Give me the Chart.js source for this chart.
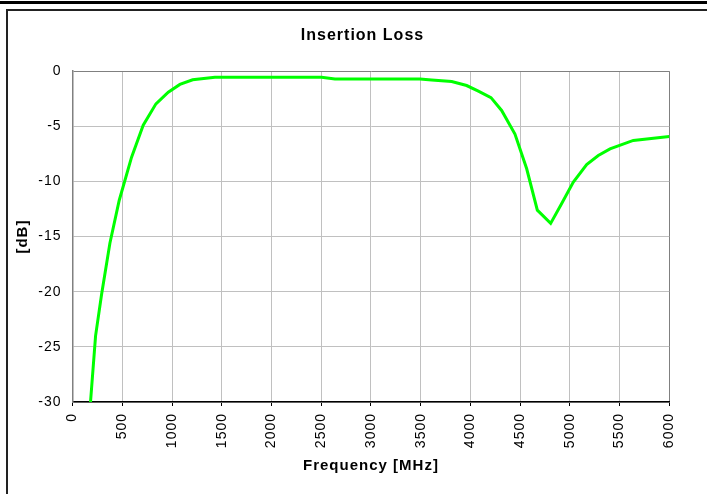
<!DOCTYPE html>
<html>
<head>
<meta charset="utf-8">
<title>Insertion Loss</title>
<script src="https://cdn.jsdelivr.net/npm/chart.js@4.4.1/dist/chart.umd.min.js"></script>
<style>
  html, body { margin: 0; padding: 0; background: #fff; overflow: hidden; }
  body { width: 707px; height: 494px; position: relative; }
  #topbar { position: absolute; left: 0; top: 1px; width: 707px; height: 3px; background: #000; }
  #frame  { position: absolute; left: 6px; top: 9px; width: 720px; height: 500px;
            border-left: 2px solid #222; border-top: 2px solid #222; }
  #wrap   { position: absolute; left: 8px; top: 11px; width: 709px; height: 483px; }
</style>
</head>
<body>
<div id="topbar"></div>
<div id="frame"></div>
<div id="wrap"><canvas id="il"></canvas></div>
<script>
// insertion loss curve
const freqMHz = [180, 231, 292, 375, 469, 593, 710, 838, 962, 1079, 1207, 1431,
                 2504, 2638, 3493, 3610, 3812, 3962, 4080, 4207, 4314, 4448,
                 4566, 4673, 4807, 4918, 5035, 5169, 5286, 5404, 5638, 6000];
const lossDb  = [-30, -24, -20.2, -15.6, -11.7, -7.8, -4.9, -2.96, -1.9, -1.2, -0.78, -0.54,
                 -0.54, -0.7, -0.7, -0.8, -0.94, -1.3, -1.8, -2.4, -3.56, -5.7,
                 -8.85, -12.6, -13.8, -12.0, -10.06, -8.46, -7.64, -7.04, -6.28, -5.92];

const xTicks = [0, 500, 1000, 1500, 2000, 2500, 3000, 3500, 4000, 4500, 5000, 5500, 6000];
const yTicks = [0, -5, -10, -15, -20, -25, -30];

const FONT = "'Liberation Sans', Arial, sans-serif";

const points = freqMHz.map((f, i) => ({ x: f, y: lossDb[i] }));

// the source chart has slightly spaced-out lettering
const spacing = {
  id: 'spacing',
  beforeUpdate: c => { c.ctx.letterSpacing = '1px'; },
  beforeDraw:   c => { c.ctx.letterSpacing = '1px'; }
};

new Chart(document.getElementById('il'), {
  type: 'line',
  data: {
    datasets: [{
      label: 'Insertion Loss',
      data: points,
      borderColor: '#00ff00',
      borderWidth: 3,
      pointRadius: 0,
      tension: 0,
      fill: false
    }]
  },
  options: {
    responsive: true,
    maintainAspectRatio: false,
    animation: false,
    layout: { padding: 0 },
    plugins: {
      legend: { display: false },
      tooltip: { enabled: false },
      title: {
        display: true,
        text: 'Insertion Loss',
        color: '#000',
        font: { family: FONT, size: 16, weight: 'bold' },
        padding: { top: 15, bottom: 26 }
      }
    },
    scales: {
      x: {
        type: 'linear',
        min: xTicks[0],
        max: xTicks[xTicks.length - 1],
        afterBuildTicks: s => { s.ticks = xTicks.map(v => ({ value: v })); },
        afterFit: s => { s.height = 92; },
        ticks: {
          color: '#000',
          font: { family: FONT, size: 14 },
          maxRotation: 90,
          minRotation: 90,
          padding: 7,
          autoSkip: false,
          callback: v => String(v)
        },
        grid: {
          color: ctx => (ctx.tick && ctx.tick.value === 6000) ? '#808080' : '#c0c0c0',
          tickColor: '#000',
          tickLength: 4,
          drawTicks: true
        },
        border: { color: '#000', width: 1.5 },
        title: {
          display: true,
          text: 'Frequency [MHz]',
          color: '#000',
          font: { family: FONT, size: 15, weight: 'bold' },
          padding: { top: 0, bottom: 19 }
        }
      },
      y: {
        min: -30,
        max: 0,
        afterBuildTicks: s => { s.ticks = yTicks.slice().reverse().map(v => ({ value: v })); },
        afterFit: s => { s.width = 64.6; },
        ticks: {
          color: '#000',
          font: { family: FONT, size: 14 },
          padding: 11,
          callback: v => String(v)
        },
        grid: {
          color: ctx => (ctx.tick && ctx.tick.value === 0) ? '#808080' : '#c0c0c0',
          drawTicks: false
        },
        border: { color: '#808080', width: 1.5 },
        title: {
          display: true,
          text: '[dB]',
          color: '#000',
          font: { family: FONT, size: 15, weight: 'bold' },
          padding: { top: 6, bottom: 0 }
        }
      },
      // empty right-hand axis: keeps the white margin right of the plot
      // while the title stays centred on the whole chart
      yPad: {
        position: 'right',
        min: -30,
        max: 0,
        afterFit: s => { s.width = 47.7; },
        ticks: { display: false },
        grid: { display: false, drawTicks: false },
        border: { display: false }
      }
    }
  },
  plugins: [spacing]
});
</script>
</body>
</html>
